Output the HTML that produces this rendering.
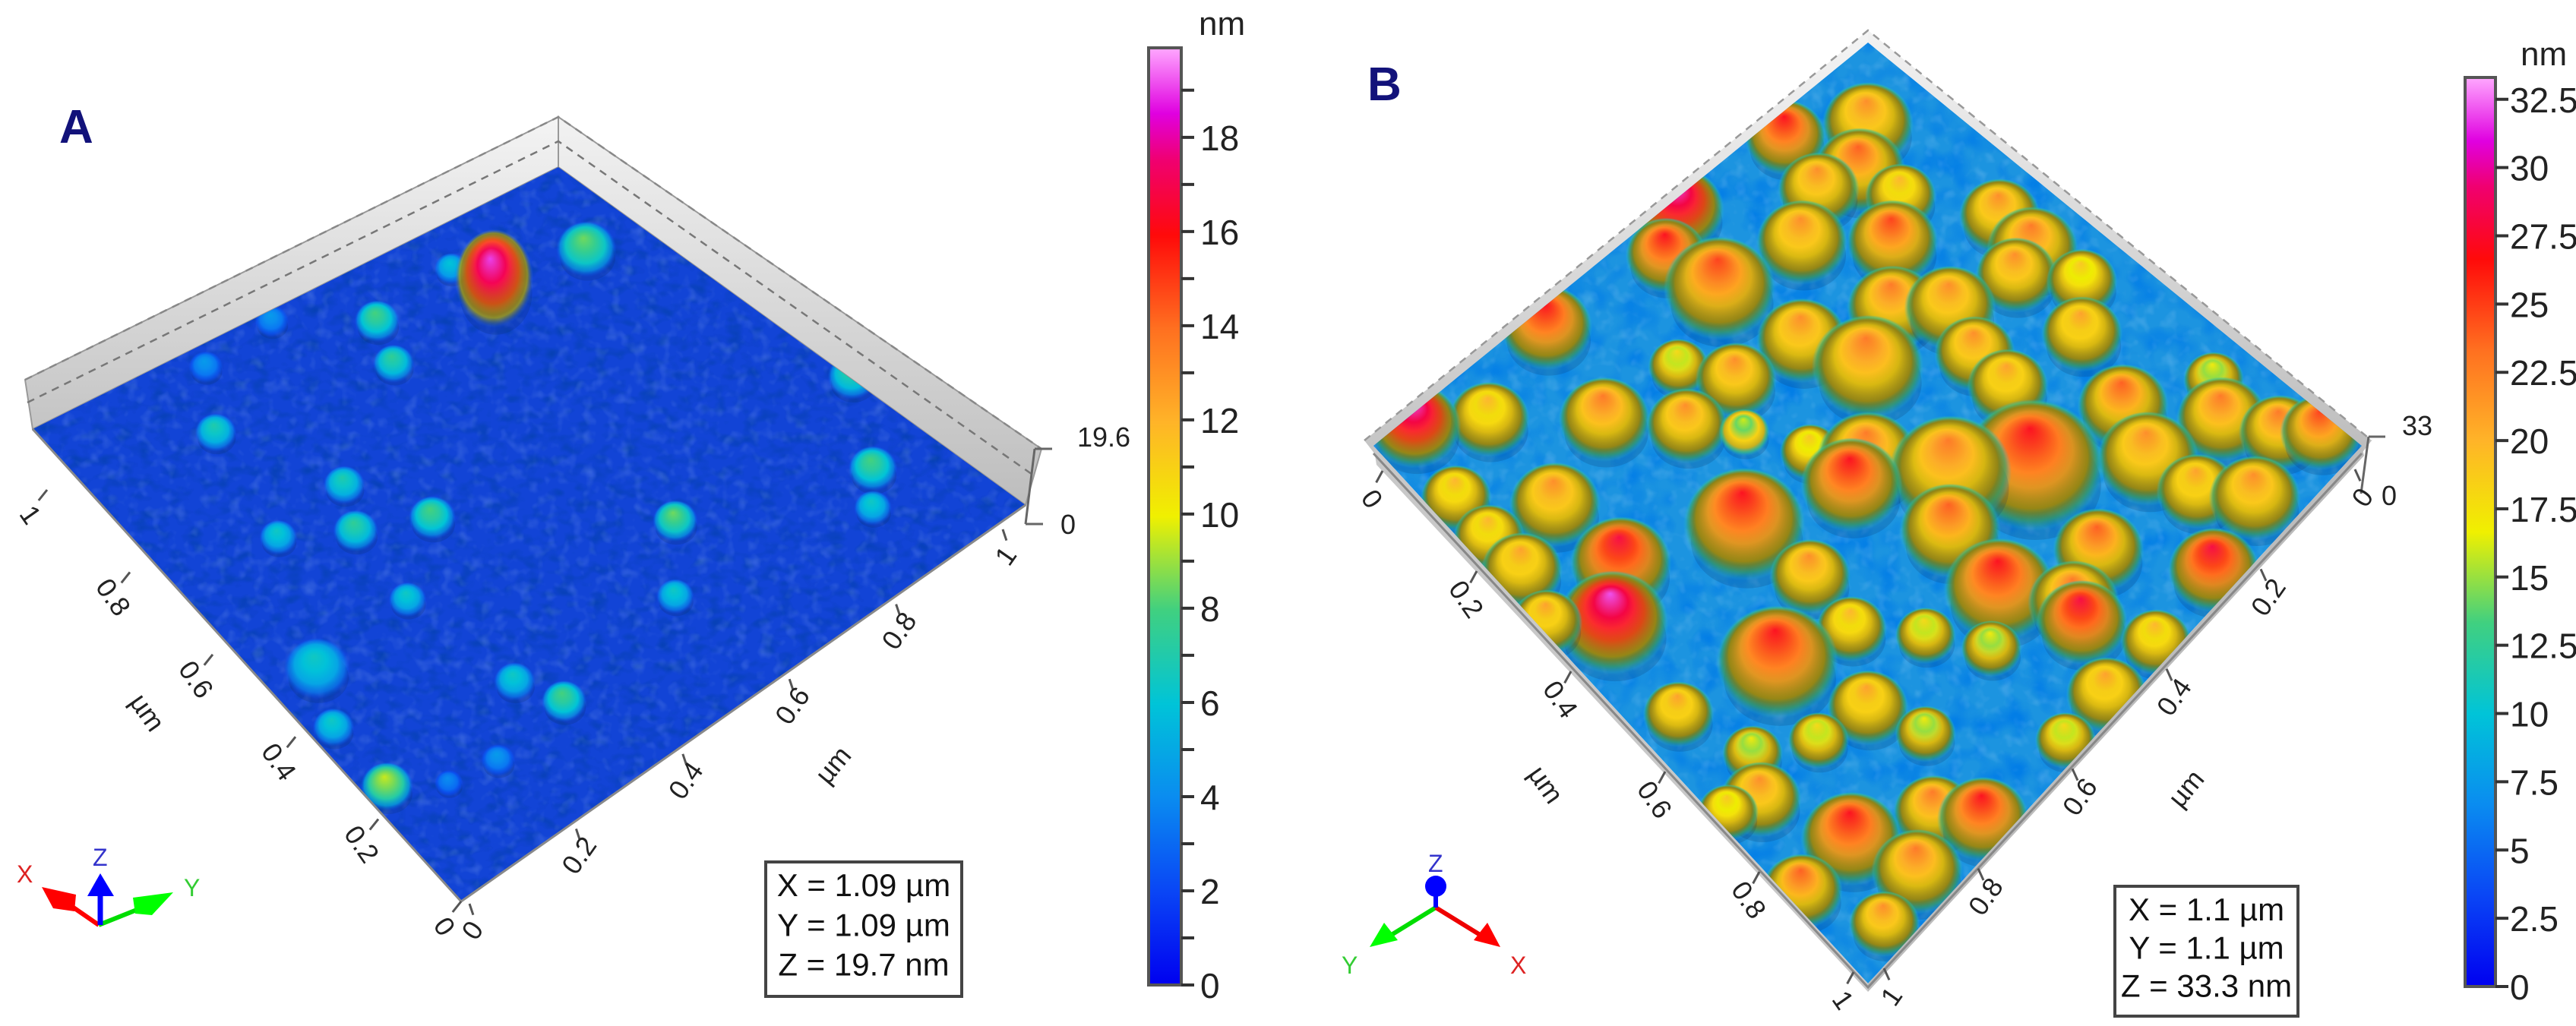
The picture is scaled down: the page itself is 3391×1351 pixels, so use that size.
<!DOCTYPE html>
<html><head><meta charset="utf-8">
<style>
html,body{margin:0;padding:0;background:#fff;}
svg{display:block;}
text{font-family:"Liberation Sans",sans-serif;}
</style></head>
<body>
<svg id="fig" width="3391" height="1351" viewBox="0 0 3391 1351" xmlns="http://www.w3.org/2000/svg">
<defs>
  <linearGradient id="wallL" x1="0" y1="0" x2="0" y2="1"><stop offset="0" stop-color="#f4f4f4"/><stop offset="1" stop-color="#c4c4c4"/></linearGradient>
  <linearGradient id="wallR" x1="0" y1="0" x2="0" y2="1"><stop offset="0" stop-color="#f2f2f2"/><stop offset="1" stop-color="#bdbdbd"/></linearGradient>
  <radialGradient id="shade" cx="0.5" cy="0.5" r="0.5" fx="0.45" fy="0.2">
    <stop offset="0" stop-color="#fff" stop-opacity="0.05"/>
    <stop offset="0.45" stop-color="#000" stop-opacity="0"/>
    <stop offset="0.85" stop-color="#2a3000" stop-opacity="0.35"/>
    <stop offset="1" stop-color="#000" stop-opacity="0"/>
  </radialGradient>
  <filter id="noise" x="0" y="0" width="100%" height="100%">
    <feTurbulence type="fractalNoise" baseFrequency="0.045 0.07" numOctaves="2" seed="4"/>
    <feColorMatrix values="0 0 0 0 0  0 0 0 0 0.05  0 0 0 0 0.35  0 0 0 1.6 -0.75"/>
  </filter>
  <filter id="noiseB" x="0" y="0" width="100%" height="100%">
    <feTurbulence type="fractalNoise" baseFrequency="0.03" numOctaves="2" seed="7"/>
    <feColorMatrix values="0 0 0 0 0  0 0 0 0 0.2  0 0 0 0 0.8  0 0 0 2.4 -1.0"/>
  </filter>
  <filter id="noiseL" x="0" y="0" width="100%" height="100%">
    <feTurbulence type="fractalNoise" baseFrequency="0.06" numOctaves="2" seed="9"/>
    <feColorMatrix values="0 0 0 0 0.6  0 0 0 0 0.8  0 0 0 0 1  0 0 0 1.4 -0.7"/>
  </filter>
  <clipPath id="clipA"><polygon points="43,565 735,220 1350,665 607,1187"/></clipPath>
  <clipPath id="clipB"><polygon points="1808,587 2459,56 3109,587 2459,1295"/></clipPath>
</defs>
<g id="panelA"></g>
<g id="panelB"></g>
</svg>
<script>
// ---------- data ----------
const maxA = 19.9;
const maxB = 33.3;
const cbTicksA = [0,2,4,6,8,10,12,14,16,18];
const cbMinorA = [1,3,5,7,9,11,13,15,17,19];
const cbTicksB = [0,2.5,5,7.5,10,12.5,15,17.5,20,22.5,25,27.5,30,32.5];
const xTicksA = ["0","0.2","0.4","0.6","0.8","1"];
const xTicksB = ["0","0.2","0.4","0.6","0.8","1"];
const infoA = ["X = 1.09 µm","Y = 1.09 µm","Z = 19.7 nm"];
const infoB = ["X = 1.1 µm","Y = 1.1 µm","Z = 33.3 nm"];
// grains: [grain x, grain y (image units), radius, height nm]
const grainsA = [
 [712,380,32,8.5],[548,410,18,6],[600,425,42,19],[458,490,24,8],[478,555,22,7.5],[330,490,18,4.5],[250,560,18,4.5],
 [262,660,22,7],[418,740,22,7],[525,790,25,8],[432,810,24,7.5],[338,820,20,6.5],[820,795,24,8.5],[1035,575,26,7.5],
 [1060,715,26,8],[1060,775,20,6.5],[495,915,20,6.5],[820,910,20,6.5],[385,1020,35,6.5],[625,1040,22,6.5],[685,1070,24,8],
 [405,1110,22,6.5],[470,1200,28,9.5],[605,1160,18,4.5],[545,1195,15,4]
];
const grainsB = [
 [600,210,40,27],[700,190,45,22],[690,260,45,24],[640,290,40,22],[740,300,35,20],[470,320,45,32],[455,390,40,27],
 [520,440,55,25],[620,370,45,22],[730,370,45,25],[860,330,40,22],[900,380,45,23],[880,420,40,22],[960,430,35,19],
 [310,500,45,27],[620,520,45,22],[700,560,55,23],[730,470,45,23],[800,470,45,22],[830,540,40,22],[960,510,40,21],
 [870,590,40,21],[540,580,40,22],[470,560,30,18],[1120,580,30,17],[1010,620,45,24],[1130,640,45,23],[1200,660,40,23],
 [1250,660,40,25],[150,650,45,32],[240,640,40,20],[380,640,45,23],[480,650,40,22],[550,660,25,16],[630,690,30,19],
 [700,700,50,23],[800,720,60,23],[900,710,70,27],[1040,700,50,22],[1100,750,40,21],[1170,760,45,22],[680,740,50,27],
 [550,800,60,27],[320,770,45,22],[200,760,35,20],[240,820,35,20],[280,870,40,21],[400,860,50,28],[390,950,55,32],
 [310,950,35,21],[800,810,50,24],[630,880,40,22],[860,900,55,27],[950,920,45,23],[980,840,45,24],[960,950,45,28],
 [1120,870,45,28],[590,1010,60,27],[680,960,35,20],[770,970,30,18],[850,990,30,17],[1050,980,35,20],[700,1080,40,21],
 [990,1060,40,21],[470,1090,35,21],[640,1130,30,18],[560,1150,30,17],[770,1120,30,17],[940,1130,30,18],[570,1220,40,22],
 [680,1280,50,27],[780,1240,40,23],[840,1250,45,27],[760,1330,45,23],[620,1360,40,24],[720,1410,35,22],[530,1240,30,19]
];
// ---------- helpers ----------
const NS="http://www.w3.org/2000/svg";
const svg=document.getElementById('fig');
function mk(tag,attrs,parent){const e=document.createElementNS(NS,tag);for(const k in attrs)e.setAttribute(k,attrs[k]);parent.appendChild(e);return e;}
const stops=[[0,[0,0,240]],[0.1,[10,70,245]],[0.2,[10,140,240]],[0.3,[0,196,216]],[0.4,[64,208,128]],[0.5,[240,240,0]],
 [0.6,[255,180,40]],[0.7,[255,112,32]],[0.8,[255,10,10]],[0.88,[240,0,112]],[0.93,[224,0,224]],[1,[255,168,255]]];
function cmap(f){f=Math.max(0,Math.min(1,f));for(let i=1;i<stops.length;i++){if(f<=stops[i][0]){const a=stops[i-1],b=stops[i];const t=(f-a[0])/(b[0]-a[0]);const c=a[1].map((v,j)=>Math.round(v+(b[1][j]-v)*t));return 'rgb('+c.join(',')+')';}}return 'rgb(255,168,255)';}
const sxA=x=>x*1.084, syA=y=>y*0.863;
const sxB=x=>1700+x*1.084, syB=y=>y*0.863;
const defs=svg.querySelector('defs');
let gid=0;
function grainGradA(h,max){
  const id='g'+(gid++);
  const g=mk('radialGradient',{id:id,cx:'0.5',cy:'0.5',r:'0.5',fx:'0.45',fy:'0.3'},defs);
  const f=h/max;
  mk('stop',{offset:'0','stop-color':cmap(f)},g);
  mk('stop',{offset:'0.35','stop-color':cmap(f*0.9)},g);
  mk('stop',{offset:'0.65','stop-color':cmap(f*0.75)},g);
  mk('stop',{offset:'0.85','stop-color':cmap(f*0.55),'stop-opacity':'0.7'},g);
  mk('stop',{offset:'1','stop-color':cmap(0.12),'stop-opacity':'0'},g);
  return id;
}
function grainGradB(h,max){
  const id='g'+(gid++);
  const g=mk('radialGradient',{id:id,cx:'0.5',cy:'0.5',r:'0.5',fx:'0.48',fy:'0.22'},defs);
  const f=h/max;
  mk('stop',{offset:'0','stop-color':cmap(f)},g);
  mk('stop',{offset:'0.3','stop-color':cmap(f*0.88)},g);
  mk('stop',{offset:'0.58','stop-color':cmap(Math.max(0.55,f*0.76))},g);
  mk('stop',{offset:'0.78','stop-color':'#c8b020'},g);
  mk('stop',{offset:'0.9','stop-color':'#40c080','stop-opacity':'0.7'},g);
  mk('stop',{offset:'1','stop-color':'#20b0d0','stop-opacity':'0'},g);
  return id;
}
function drawGrains(parent,list,sx,sy,max,grad,scale,name){
  const sorted=list.slice().sort((a,b)=>a[1]-b[1]);
  sorted.forEach(d=>{
    const cx=sx(d[0]),cy=sy(d[1]),rx=d[2]*1.084*scale;
    const ry=d[3]/max>0.8&&grad===grainGradA ? rx*1.25 : d[2]*scale;
    const sh=mk('ellipse',{cx:cx+rx*0.05,cy:cy+ry*0.35,rx:rx*1.05,ry:ry*0.95,fill:'#0a2a60',opacity:'0.18'},parent);
    
    
    const e=mk('ellipse',{cx:cx,cy:cy,rx:rx*1.15,ry:ry*1.15,fill:'url(#'+grad(d[3],max)+')'},parent);
    
    
    if(d[3]/max>0.5){const s=mk('ellipse',{cx:cx,cy:cy,rx:rx*1.1,ry:ry*1.1,fill:'url(#shade)'},parent);
      
      }
  });
}
function txt(parent,x,y,s,attrs,name){const t=mk('text',Object.assign({x:x,y:y},attrs),parent);t.textContent=s;
  
  return t;}
function lerp(a,b,t){return [a[0]+(b[0]-a[0])*t,a[1]+(b[1]-a[1])*t];}

// ---------- colorbar gradient ----------
const cbg=mk('linearGradient',{id:'cbar',x1:'0',y1:'1',x2:'0',y2:'0'},defs);
stops.forEach(s=>mk('stop',{offset:s[0],'stop-color':cmap(s[0])},cbg));
function colorbar(parent,x,w,yTop,yBot,max,ticks,minor,labelX,fmt,nmX,nmY,name){
  const yOf=v=>yBot-(yBot-yTop)*v/max;
  const r=mk('rect',{x:x,y:yTop,width:w,height:yBot-yTop,fill:'url(#cbar)',stroke:'#555',"stroke-width":4},parent);
  
  
  ticks.forEach(v=>{const y=yOf(v);mk('line',{x1:x+w,y1:y,x2:x+w+17,y2:y,stroke:'#333',"stroke-width":4},parent);
    txt(parent,labelX,y+17,fmt(v),{"font-size":46,fill:'#222'},name+'-tick-label');});
  minor.forEach(v=>{const y=yOf(v);mk('line',{x1:x+w,y1:y,x2:x+w+17,y2:y,stroke:'#333',"stroke-width":4},parent);});
  txt(parent,nmX,nmY,'nm',{"font-size":44,fill:'#222'},name+'-unit');
}
function infoBox(parent,x,y,w,h,lines,name){
  const r=mk('rect',{x:x,y:y,width:w,height:h,fill:'#fff',stroke:'#444',"stroke-width":4},parent);
  
  
  lines.forEach((s,i)=>txt(parent,x+w/2,y+45+i*(h-20)/3,s,{"font-size":42,fill:'#111',"text-anchor":'middle'},name+'-line'));
}
function edgeTicks(parent,p0,p1,labels,offset,rot,name){
  labels.forEach((s,i)=>{const p=lerp(p0,p1,i/(labels.length-1));
    mk('line',{x1:p[0],y1:p[1],x2:p[0]+offset[0]*0.35,y2:p[1]+offset[1]*0.35,stroke:'#555',"stroke-width":3},parent);
    const tx=p[0]+offset[0],ty=p[1]+offset[1];
    txt(parent,tx,ty,s,{"font-size":36,fill:'#222',"text-anchor":'middle',transform:'rotate('+rot+' '+tx+' '+ty+')'},name);});
}

// ---------- Panel A ----------
const A=document.getElementById('panelA');
txt(A,78,188,'A',{"font-size":62,"font-weight":'bold',"font-family":'"Liberation Serif",serif',fill:'#12127a'},'panel-a-label');
let w=mk('polygon',{points:'33,500 735,154 735,220 43,565',fill:'url(#wallL)',stroke:'#999',"stroke-width":2},A);

w=mk('polygon',{points:'735,154 1371,591 1350,665 735,220',fill:'url(#wallR)',stroke:'#999',"stroke-width":2},A);

mk('polyline',{points:'36,530 735,186 1362,627',fill:'none',stroke:'#777',"stroke-width":2.5,"stroke-dasharray":'10 8'},A);
mk('polyline',{points:'33,500 735,154 1371,591',fill:'none',stroke:'#888',"stroke-width":2.5,"stroke-dasharray":'10 8'},A);
const sA=mk('g',{"clip-path":'url(#clipA)'},A);
const surfA=mk('polygon',{points:'43,565 735,220 1350,665 607,1187',fill:'#1244d6'},sA);

mk('rect',{x:0,y:200,width:1400,height:1000,filter:'url(#noise)',opacity:'0.9'},sA);
mk('rect',{x:0,y:200,width:1400,height:1000,filter:'url(#noiseL)',opacity:'0.3'},sA);
drawGrains(sA,grainsA,sxA,syA,maxA,grainGradA,1,'grain-a');
mk('polyline',{points:'43,565 607,1187 1350,665',fill:'none',stroke:'#8a8a8a',"stroke-width":3},A);
mk('line',{x1:1362,y1:591,x2:1350,y2:690,stroke:'#666',"stroke-width":3},A);
mk('line',{x1:1362,y1:591,x2:1385,y2:591,stroke:'#666',"stroke-width":3},A);
mk('line',{x1:1350,y1:690,x2:1373,y2:690,stroke:'#666',"stroke-width":3},A);
txt(A,1418,588,'19.6',{"font-size":36,fill:'#222'},'z-max-label-a');
txt(A,1396,703,'0',{"font-size":36,fill:'#222'},'z-min-label-a');
edgeTicks(A,[607,1187],[62,645],xTicksA,[-32,40],55,'x-tick-label-a');
edgeTicks(A,[618,1190],[1320,697],xTicksA,[14,42],-55,'y-tick-label-a');
txt(A,184,945,'µm',{"font-size":36,fill:'#222',"text-anchor":'middle',transform:'rotate(55 184 945)'},'x-axis-title-a');
txt(A,1106,1015,'µm',{"font-size":36,fill:'#222',"text-anchor":'middle',transform:'rotate(-50 1106 1015)'},'y-axis-title-a');
colorbar(A,1512,43,63,1297,maxA,cbTicksA,cbMinorA,1580,v=>String(v),1578,46,'colorbar-a');
infoBox(A,1008,1135,258,177,infoA,'dimension-box-a');
let ax=mk('g',{},A);
mk('line',{x1:130,y1:1218,x2:75,y2:1180,stroke:'#f00',"stroke-width":6},ax);
mk('polygon',{points:'55,1168 100,1178 98,1200 70,1196',fill:'#f00'},ax);
mk('line',{x1:130,y1:1218,x2:200,y2:1190,stroke:'#0d0',"stroke-width":6},ax);
mk('polygon',{points:'175,1182 228,1175 200,1205 178,1203',fill:'#0f0'},ax);
mk('line',{x1:132,y1:1218,x2:132,y2:1170,stroke:'#00f',"stroke-width":7},ax);
mk('polygon',{points:'132,1150 115,1180 150,1180',fill:'#00f'},ax);
txt(ax,22,1162,'X',{"font-size":32,fill:'#d22'},'x-axis-indicator-label-a');
txt(ax,122,1140,'Z',{"font-size":32,fill:'#33c'},'z-axis-indicator-label-a');
txt(ax,242,1180,'Y',{"font-size":32,fill:'#3c3'},'y-axis-indicator-label-a');

// ---------- Panel B ----------
const B=document.getElementById('panelB');
txt(B,1800,132,'B',{"font-size":62,"font-weight":'bold',"font-family":'"Liberation Serif",serif',fill:'#12127a'},'panel-b-label');
w=mk('polygon',{points:'1796,580 2459,40 2459,62 1810,598',fill:'url(#wallL)'},B);

w=mk('polygon',{points:'2459,40 3122,580 3108,598 2459,62',fill:'url(#wallR)'},B);

mk('polyline',{points:'1796,580 2459,40 3122,580',fill:'none',stroke:'#999',"stroke-width":2.5,"stroke-dasharray":'10 8'},B);
mk('polygon',{points:'1808,587 2459,1295 2459,1306 1812,612',fill:'#c8c8c8'},B);
mk('polygon',{points:'3109,587 2459,1295 2459,1306 3112,600',fill:'#bcbcbc'},B);
const sB=mk('g',{"clip-path":'url(#clipB)'},B);
const surfB=mk('polygon',{points:'1808,587 2459,56 3109,587 2459,1295',fill:'#1c94e0'},sB);

mk('rect',{x:1780,y:40,width:1350,height:1270,filter:'url(#noiseB)',opacity:'0.9'},sB);
mk('rect',{x:1780,y:40,width:1350,height:1270,filter:'url(#noiseL)',opacity:'0.35'},sB);
drawGrains(sB,grainsB,sxB,syB,maxB,grainGradB,1.08,'grain-b');
mk('polyline',{points:'1808,597 2459,1300 3109,597',fill:'none',stroke:'#888',"stroke-width":3},B);
mk('line',{x1:3118,y1:575,x2:3108,y2:650,stroke:'#666',"stroke-width":3},B);
mk('line',{x1:3118,y1:575,x2:3140,y2:575,stroke:'#666',"stroke-width":3},B);
txt(B,3162,573,'33',{"font-size":36,fill:'#222'},'z-max-label-b');
txt(B,3135,665,'0',{"font-size":36,fill:'#222'},'z-min-label-b');
edgeTicks(B,[1820,620],[2440,1280],xTicksB,[-24,44],55,'x-tick-label-b');
edgeTicks(B,[3100,618],[2480,1275],xTicksB,[20,44],-55,'y-tick-label-b');
txt(B,2025,1040,'µm',{"font-size":36,fill:'#222',"text-anchor":'middle',transform:'rotate(55 2025 1040)'},'x-axis-title-b');
txt(B,2887,1046,'µm',{"font-size":36,fill:'#222',"text-anchor":'middle',transform:'rotate(-50 2887 1046)'},'y-axis-title-b');
colorbar(B,3245,40,102,1299,maxB,cbTicksB,[],3304,v=>String(v),3318,86,'colorbar-b');
infoBox(B,2784,1167,241,171,infoB,'dimension-box-b');
ax=mk('g',{},B);
mk('line',{x1:1890,y1:1195,x2:1830,y2:1232,stroke:'#0d0',"stroke-width":6},ax);
mk('polygon',{points:'1803,1247 1822,1215 1840,1238',fill:'#0f0'},ax);
mk('line',{x1:1890,y1:1195,x2:1950,y2:1232,stroke:'#e00',"stroke-width":6},ax);
mk('polygon',{points:'1975,1247 1958,1215 1940,1238',fill:'#f00'},ax);
mk('line',{x1:1890,y1:1195,x2:1890,y2:1160,stroke:'#00f',"stroke-width":6},ax);
mk('circle',{cx:1890,cy:1167,r:14,fill:'#00f'},ax);
txt(ax,1880,1148,'Z',{"font-size":32,fill:'#33c'},'z-axis-indicator-label-b');
txt(ax,1766,1282,'Y',{"font-size":32,fill:'#3c3'},'y-axis-indicator-label-b');
txt(ax,1988,1282,'X',{"font-size":32,fill:'#d22'},'x-axis-indicator-label-b');
</script>
</body></html>
